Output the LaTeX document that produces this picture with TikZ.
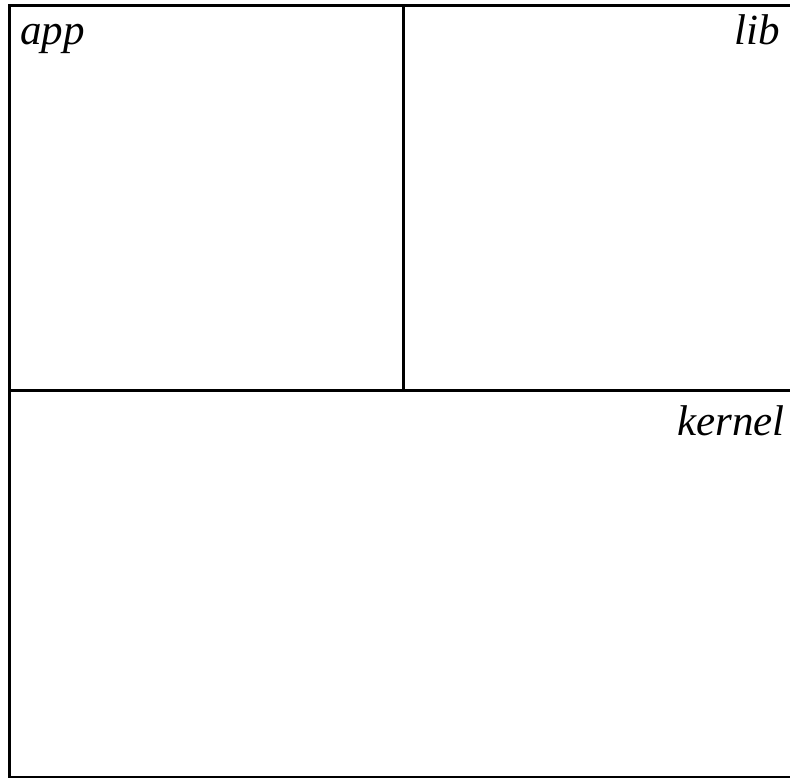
\documentclass[tikz,border=0pt]{standalone}
\usepackage{fontspec}
\setmainfont{Liberation Serif}
\begin{document}
\begin{tikzpicture}[x=1pt,y=-1pt,
  frame/.style={line width=3pt,black},
  lbl/.style={inner sep=0pt,font=\fontsize{43}{50}\selectfont\itshape}]
\useasboundingbox (0,0) rectangle (790,777);
\clip (0,0) rectangle (790,777);
\coordinate (tl) at (9,5);
\coordinate (br) at (805,777.8);
\coordinate (midL) at (9,390);
\coordinate (midR) at (805,390);
\coordinate (vtop) at (403,5);
\coordinate (vbot) at (403,390);
\draw[frame] (tl) rectangle (br);
\draw[frame] (midL) -- (midR);
\draw[frame] (vtop) -- (vbot);
\node[lbl,anchor=base west] (app) at (20,44) {app};
\node[lbl,anchor=base east] (lib) at (780,44) {lib};
\node[lbl,anchor=base east] (kernel) at (785,435) {kernel};
\end{tikzpicture}
\end{document}
